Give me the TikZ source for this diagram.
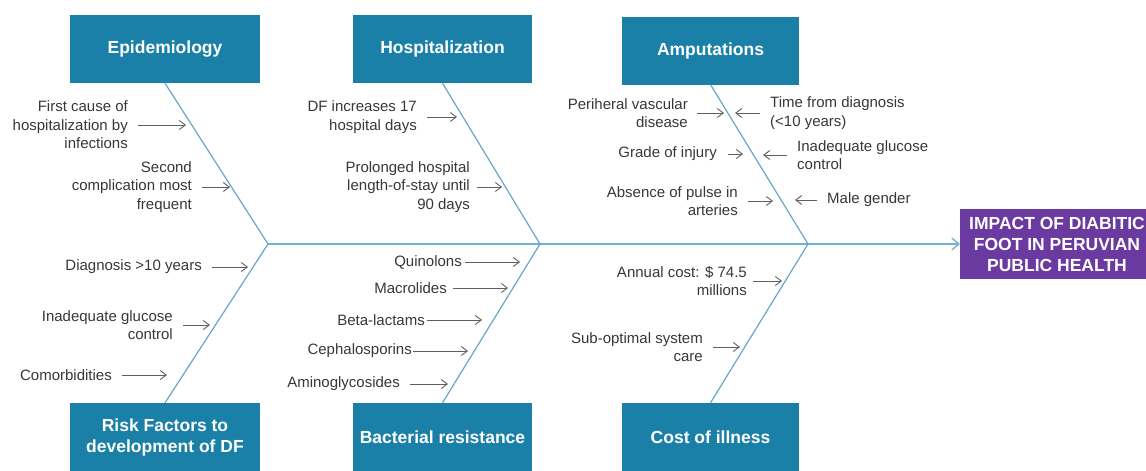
\documentclass[tikz,border=0pt]{standalone}
\usepackage{fontspec}
\setmainfont{Liberation Sans}
\usetikzlibrary{arrows.meta}
\definecolor{boxteal}{RGB}{26,128,168}
\definecolor{impact}{RGB}{106,58,160}
\definecolor{bonecol}{RGB}{100,168,198}
\definecolor{spinecol}{RGB}{110,178,212}
\definecolor{txt}{RGB}{55,55,55}
\definecolor{arrcol}{RGB}{95,95,95}
\begin{document}
\begin{tikzpicture}[x=1pt,y=-1pt,
 cat/.style={fill=boxteal, text=white, font=\fontsize{17.5}{21}\selectfont\bfseries, align=center, inner sep=0, minimum height=68},
 goalbox/.style={fill=impact, text=white, font=\fontsize{17.5}{21}\selectfont\bfseries, align=center, inner sep=0, minimum height=70, minimum width=194},
 lab/.style={text=txt, font=\fontsize{15}{18.5}\selectfont, inner sep=0},
 labr/.style={lab, anchor=east, align=right},
 labl/.style={lab, anchor=west, align=left},
 arr/.style={draw=arrcol, line width=0.9, shorten <=10, -{Straight Barb[length=6,width=9]}},
 bone/.style={draw=bonecol, line width=1.2},
 spine/.style={draw=spinecol, line width=1.3, -{Straight Barb[length=7,width=12]}},
]
\clip (0,0) rectangle (1146,471);
\useasboundingbox (0,0) rectangle (1146,471);

% category boxes
\node[cat, minimum width=190] (epi) at (165,49) {Epidemiology};
\node[cat, minimum width=179] (hosp) at (442.5,49) {Hospitalization};
\node[cat, minimum width=177] (amp) at (710.5,50.5) {Amputations};
\node[cat, minimum width=190] (risk) at (165,437) {Risk Factors to\\development of DF};
\node[cat, minimum width=179] (bact) at (442.5,437) {Bacterial resistance};
\node[cat, minimum width=177] (cost) at (710.5,437) {Cost of illness};
\node[goalbox] (goal) at (1057,244) {IMPACT OF DIABITIC\\FOOT IN PERUVIAN\\PUBLIC HEALTH};

% spine and bones
\coordinate (v1) at (268,244);
\coordinate (v2) at (540,244);
\coordinate (v3) at (808,244);
\draw[spine] (v1) -- (goal.west);
\draw[bone] (epi.south) -- (v1) -- (risk.north);
\draw[bone] (hosp.south) -- (v2) -- (bact.north);
\draw[bone] (amp.south) -- (v3) -- (cost.north);

% Epidemiology
\node[labr] (e1) at (128,125) {First cause of\\hospitalization by\\infections};
\coordinate (te1) at (186,125);
\draw[arr] (e1) -- (te1);
\node[labr] (e2) at (192,187) {Second\\complication most\\frequent};
\coordinate (te2) at (230,187);
\draw[arr] (e2) -- (te2);

% Hospitalization
\node[labr] (h1) at (417,117) {DF increases 17\\hospital days};
\coordinate (th1) at (457,117);
\draw[arr] (h1) -- (th1);
\node[labr] (h2) at (470,187) {Prolonged hospital\\length-of-stay until\\90 days};
\coordinate (th2) at (502,187);
\draw[arr, shorten <=7] (h2) -- (th2);

% Amputations
\node[labr] (a1) at (688,113) {Periheral vascular\\disease};
\coordinate (ta1) at (724,113);
\draw[arr, shorten <=9] (a1) -- (ta1);
\node[labr] (a2) at (717,154) {Grade of injury};
\coordinate (ta2) at (743,154);
\draw[arr, shorten <=11] (a2) -- (ta2);
\node[labr] (a3) at (738,201) {Absence of pulse in\\arteries};
\coordinate (ta3) at (773,201);
\draw[arr] (a3) -- (ta3);
\node[labl] (a4) at (770,113) {Time from diagnosis\\(<10 years)};
\coordinate (ta4) at (735,113);
\draw[arr] (a4) -- (ta4);
\node[labl] (a5) at (797,155) {Inadequate glucose\\control};
\coordinate (ta5) at (763,155);
\draw[arr] (a5) -- (ta5);
\node[labl] (a6) at (827,200) {Male gender};
\coordinate (ta6) at (795,200);
\draw[arr] (a6) -- (ta6);

% Risk factors
\node[labr] (r1) at (202,267) {Diagnosis >10 years};
\coordinate (tr1) at (248,267);
\draw[arr] (r1) -- (tr1);
\node[labr] (r2) at (173,325) {Inadequate glucose\\control};
\coordinate (tr2) at (210,325);
\draw[arr] (r2) -- (tr2);
\node[labr] (r3) at (112,375) {Comorbidities};
\coordinate (tr3) at (167,375);
\draw[arr] (r3) -- (tr3);

% Bacterial resistance
\node[labr] (b1) at (462,262) {Quinolons};
\coordinate (tb1) at (520,262);
\draw[arr, shorten <=3] (b1) -- (tb1);
\node[labr] (b2) at (447,288) {Macrolides};
\coordinate (tb2) at (508,288);
\draw[arr, shorten <=6] (b2) -- (tb2);
\node[labr] (b3) at (425,320) {Beta-lactams};
\coordinate (tb3) at (482,320);
\draw[arr, shorten <=2] (b3) -- (tb3);
\node[labr] (b4) at (412,351) {Cephalosporins};
\coordinate (tb4) at (468,351);
\draw[arr, shorten <=1] (b4) -- (tb4);
\node[labr] (b5) at (400,384) {Aminoglycosides};
\coordinate (tb5) at (448,384);
\draw[arr] (b5) -- (tb5);

% Cost of illness
\node[labr] (c1) at (747,281) {Annual cost: \$ 74.5\\millions};
\coordinate (tc1) at (782,281);
\draw[arr, shorten <=6] (c1) -- (tc1);
\node[labr] (c2) at (703,347) {Sub-optimal system\\care};
\coordinate (tc2) at (740,347);
\draw[arr] (c2) -- (tc2);
\end{tikzpicture}
\end{document}
